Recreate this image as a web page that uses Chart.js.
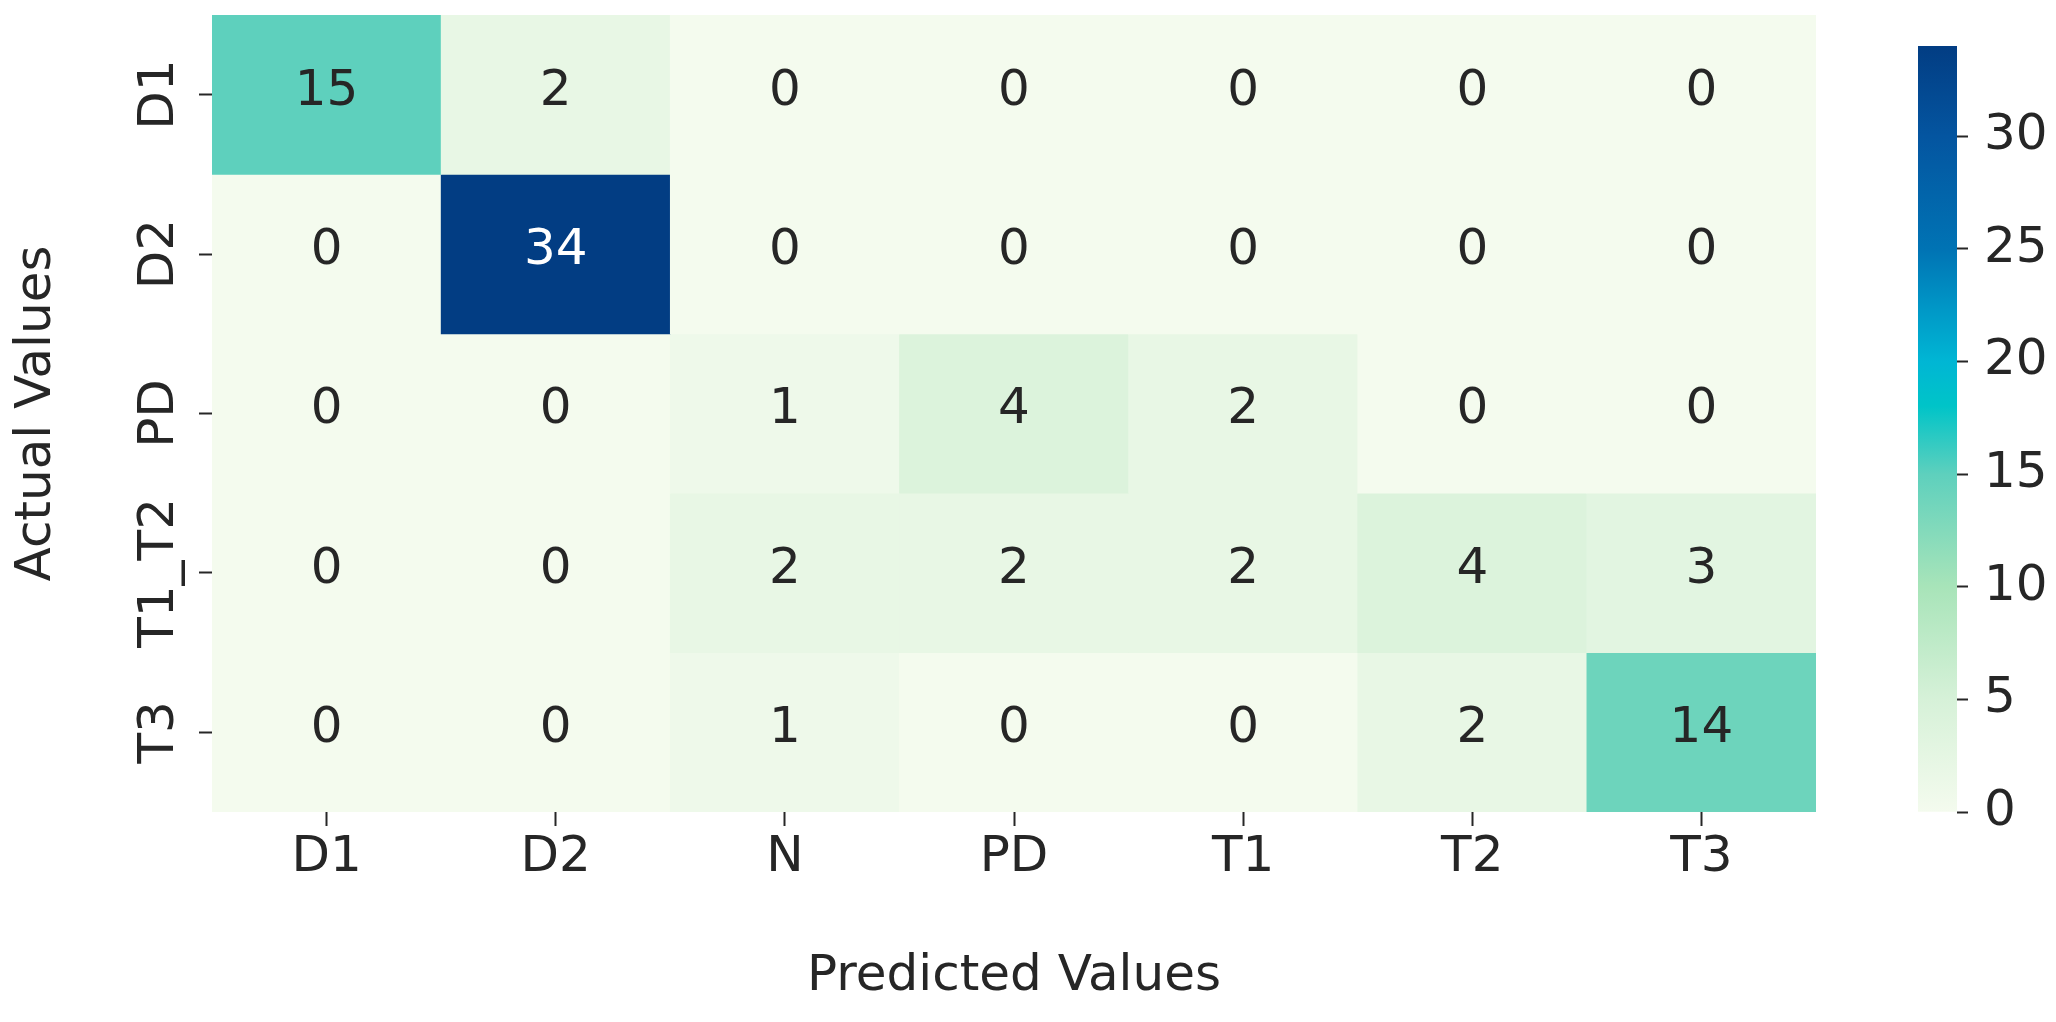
<!DOCTYPE html>
<html lang="en">
<head>
  <meta charset="UTF-8" />
  <title>Confusion Matrix</title>
  <script src="https://cdn.jsdelivr.net/npm/chart.js"></script>
  <style>
    body {
      margin: 0;
      background: #fff;
      width: 2056px;
      height: 1022px;
      overflow: hidden;
      position: relative;
    }
    #matrixChart { position: absolute; left: 0; top: 0; }
    #scaleChart { position: absolute; left: 1900px; top: 0; }
  </style>
</head>
<body>
  <canvas id="matrixChart" width="1840" height="1022"></canvas>
  <canvas id="scaleChart" width="156" height="1022"></canvas>

  <script>
  // predicted classes (columns) and actual classes (rows)
  const predicted = ['D1', 'D2', 'N', 'PD', 'T1', 'T2', 'T3'];
  const actual = ['D1', 'D2', 'PD', 'T1_T2', 'T3'];

  // one array per actual row
  const rowD1 = [15, 2, 0, 0, 0, 0, 0];
  const rowD2 = [0, 34, 0, 0, 0, 0, 0];
  const rowPD = [0, 0, 1, 4, 2, 0, 0];
  const rowT1T2 = [0, 0, 2, 2, 2, 4, 3];
  const rowT3 = [0, 0, 1, 0, 0, 2, 14];
  const matrix = [rowD1, rowD2, rowPD, rowT1T2, rowT3];

  const colorbarTicks = [0, 5, 10, 15, 20, 25, 30];
  const vmax = Math.max(...matrix.flat());

  // GnBu-like colour ramp, position 0..1
  const colorStops = [
    [0.000, '#f4fbee'],
    [0.147, '#d6f1d8'],
    [0.294, '#a8e4b9'],
    [0.441, '#5ed0bd'],
    [0.530, '#00c4c8'],
    [0.588, '#00b6d4'],
    [0.660, '#0096c6'],
    [0.735, '#0073b4'],
    [0.882, '#0455a0'],
    [1.000, '#023d83']
  ];

  const textColor = '#262626';
  const font = { family: "'DejaVu Sans', sans-serif", size: 50 };

  function hexToRgb(h) {
    return [1, 3, 5].map(i => parseInt(h.slice(i, i + 2), 16));
  }

  function colorFor(t) {
    t = Math.max(0, Math.min(1, t));
    for (let i = 1; i < colorStops.length; i++) {
      const [p1, c1] = colorStops[i - 1];
      const [p2, c2] = colorStops[i];
      if (t <= p2) {
        const k = (t - p1) / (p2 - p1);
        const a = hexToRgb(c1), b = hexToRgb(c2);
        const rgb = a.map((v, j) => Math.round(v + (b[j] - v) * k));
        return `rgb(${rgb.join(',')})`;
      }
    }
    return colorStops[colorStops.length - 1][1];
  }

  // cell numbers + rotated row labels
  const cellText = {
    id: 'cellText',
    afterDatasetsDraw(chart) {
      const ctx = chart.ctx;
      ctx.save();
      ctx.font = `${font.size}px ${font.family}`;
      ctx.textAlign = 'center';
      ctx.textBaseline = 'middle';
      matrix.forEach((row, r) => {
        const meta = chart.getDatasetMeta(r);
        meta.data.forEach((bar, c) => {
          const p = bar.getProps(['x', 'y', 'base'], true);
          const v = row[c];
          ctx.fillStyle = v / vmax > 0.6 ? '#ffffff' : textColor;
          ctx.fillText(String(v), p.x, (p.y + p.base) / 2 - 3);
        });
      });

      const ys = chart.scales.y;
      ctx.fillStyle = textColor;
      actual.forEach((label, i) => {
        const y = ys.getPixelForValue(i + 0.5);
        ctx.save();
        ctx.translate(ys.right - 52, y);
        ctx.rotate(-Math.PI / 2);
        ctx.fillText(label, 0, 0);
        ctx.restore();
      });
      ctx.restore();
    }
  };

  new Chart(document.getElementById('matrixChart'), {
    type: 'bar',
    data: {
      labels: predicted,
      datasets: matrix.map((row, r) => ({
        label: actual[r],
        data: row.map(() => [r, r + 1]),
        backgroundColor: row.map(v => colorFor(v / vmax)),
        borderWidth: 0,
        grouped: false,
        barPercentage: 1,
        categoryPercentage: 1
      }))
    },
    options: {
      responsive: false,
      animation: false,
      layout: { padding: { left: 0, top: 15, right: 24, bottom: 0 } },
      plugins: {
        legend: { display: false },
        tooltip: { enabled: false }
      },
      scales: {
        x: {
          offset: true,
          grid: { drawOnChartArea: false, offset: false, tickLength: 14, tickWidth: 2, tickColor: textColor },
          border: { display: false },
          ticks: { font: font, color: textColor, padding: 2, maxRotation: 0 },
          title: { display: true, text: 'Predicted Values', font: font, color: textColor, padding: { top: 0, bottom: 15 } },
          afterFit: s => { s.height = 210; }
        },
        y: {
          type: 'linear',
          min: 0,
          max: actual.length,
          reverse: true,
          afterBuildTicks: s => { s.ticks = actual.map((_, i) => ({ value: i + 0.5 })); },
          grid: { drawOnChartArea: false, tickLength: 13, tickWidth: 2, tickColor: textColor },
          border: { display: false },
          ticks: { display: false },
          title: { display: true, text: 'Actual Values', font: font, color: textColor, padding: { top: 7, bottom: 0 } },
          afterFit: s => { s.width = 212; }
        }
      }
    },
    plugins: [cellText]
  });

  // colour bar
  new Chart(document.getElementById('scaleChart'), {
    type: 'bar',
    data: {
      labels: [''],
      datasets: [{
        data: [[0, vmax]],
        backgroundColor: ctx => {
          const area = ctx.chart.chartArea;
          if (!area) return colorStops[0][1];
          const g = ctx.chart.ctx.createLinearGradient(0, area.bottom, 0, area.top);
          colorStops.forEach(s => g.addColorStop(s[0], s[1]));
          return g;
        },
        borderWidth: 0,
        barPercentage: 1,
        categoryPercentage: 1
      }]
    },
    options: {
      responsive: false,
      animation: false,
      layout: { padding: { left: 18, top: 15, right: 0, bottom: 210 } },
      plugins: {
        legend: { display: false },
        tooltip: { enabled: false }
      },
      scales: {
        x: { display: false },
        y: {
          position: 'right',
          min: 0,
          max: vmax,
          afterBuildTicks: s => { s.ticks = colorbarTicks.map(v => ({ value: v })); },
          grid: { drawOnChartArea: false, tickLength: 11, tickWidth: 2, tickColor: textColor },
          border: { display: false },
          ticks: { font: font, color: textColor, padding: 16 },
          afterFit: s => { s.width = 99; }
        }
      }
    }
  });
  </script>
</body>
</html>
